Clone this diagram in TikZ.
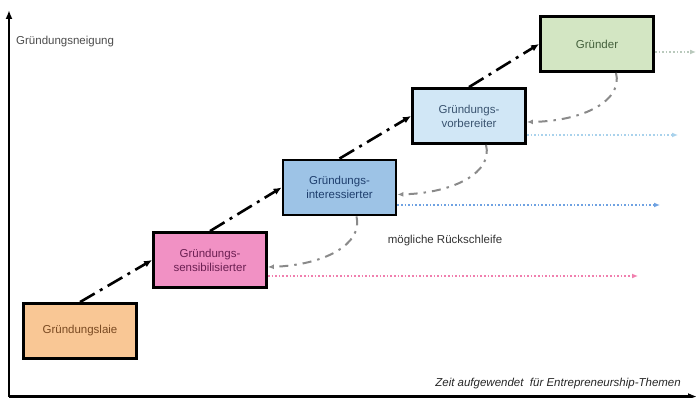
\documentclass[tikz,border=0pt]{standalone}
\usepackage{fontspec}
\setmainfont{Liberation Sans}
\usetikzlibrary{arrows.meta}
\definecolor{laiefill}{HTML}{F9C795}
\definecolor{laietext}{HTML}{7A4A22}
\definecolor{sensfill}{HTML}{F191C4}
\definecolor{senstext}{HTML}{6B1F52}
\definecolor{interfill}{HTML}{9DC3E6}
\definecolor{intertext}{HTML}{1F3F6E}
\definecolor{vorbfill}{HTML}{D1E7F6}
\definecolor{vorbtext}{HTML}{3A5470}
\definecolor{gruenfill}{HTML}{D3E6C3}
\definecolor{gruentext}{HTML}{44603C}
\definecolor{dotgruen}{HTML}{B9C9BC}
\definecolor{dotvorb}{HTML}{A9D2EC}
\definecolor{dotinter}{HTML}{6FA2E2}
\definecolor{dotsens}{HTML}{F07FAE}
\definecolor{loopgray}{HTML}{8A8A8A}
\tikzset{
  stagebox/.style={draw=black, line width=2.8pt, minimum width=113pt, minimum height=55pt,
    inner sep=0pt, align=center, font=\fontsize{11.5}{14}\selectfont},
  stair/.style={line width=2.6pt, dash pattern=on 17pt off 6pt on 3pt off 6pt,
    -{Latex[length=8pt,width=7pt]}},
  loopback/.style={loopgray, line width=2pt, dash pattern=on 9pt off 6pt on 2.5pt off 6pt,
    -{Latex[length=6pt,width=5pt,open]}},
  dotarrow/.style={line width=1.6pt, dash pattern=on 1.6pt off 2pt,
    -{Latex[length=6pt,width=5pt]}},
  axisline/.style={line width=2.6pt, -{Latex[length=9pt,width=7pt]}},
  lbl/.style={font=\fontsize{11.5}{13}\selectfont, inner sep=0pt}
}
\begin{document}
\begin{tikzpicture}[x=1pt,y=-1pt]
\useasboundingbox (0,0) rectangle (696,398);

% axes
\coordinate (origin) at (9,396.5);
\coordinate (ytop) at (9,10);
\coordinate (xend) at (697,396.5);
\draw[axisline] (origin) -- (ytop);
\draw[axisline] (origin) -- (xend);

% stages
\node[stagebox, fill=laiefill, text=laietext] (laie) at (80,331) {Gründungslaie};
\node[stagebox, fill=sensfill, text=senstext] (sens) at (210,260) {Gründungs-\\sensibilisierter};
\node[stagebox, fill=interfill, text=intertext] (inter) at (339.5,187.5) {Gründungs-\\interessierter};
\node[stagebox, fill=vorbfill, text=vorbtext] (vorb) at (469,116) {Gründungs-\\vorbereiter};
\node[stagebox, fill=gruenfill, text=gruentext] (gruender) at (597,44) {Gründer};

% staircase arrows
\draw[stair] (laie.north) -- (sens.west);
\draw[stair] (sens.north) -- (inter.west);
\draw[stair] (inter.north) -- (vorb.west);
\draw[stair] (vorb.north) -- (gruender.west);

% loop-back arrows
\draw[loopback] ([xshift=19pt]gruender.south) .. controls (623,100) and (585,121) .. ([yshift=-6pt]vorb.east);
\draw[loopback] ([xshift=17pt]vorb.south) .. controls (493,172) and (455,193) .. ([yshift=-7pt]inter.east);
\draw[loopback] ([xshift=17pt]inter.south) .. controls (363,244) and (325,265) .. ([yshift=-7pt]sens.east);

% dotted time arrows
\coordinate (gend) at (696,52);
\coordinate (vend) at (678,135);
\coordinate (iend) at (660,205);
\coordinate (send) at (638,276);
\draw[dotarrow, dotgruen] ([yshift=-8pt]gruender.east) -- (gend);
\draw[dotarrow, dotvorb] ([yshift=-19pt]vorb.east) -- (vend);
\draw[dotarrow, dotinter] ([yshift=-17.5pt]inter.east) -- (iend);
\draw[dotarrow, dotsens] ([yshift=-16pt]sens.east) -- (send);

% labels
\node[lbl, anchor=west, text=black!70] (ylab) at (16,42) {Gründungsneigung};
\node[lbl, text=black!80] (rueck) at (445,241) {mögliche Rückschleife};
\node[lbl, anchor=east, text=black!85, font=\fontsize{11.5}{13}\selectfont\itshape] (xlab) at (681,384) {Zeit aufgewendet\ \ für Entrepreneurship-Themen};
\end{tikzpicture}
\end{document}
